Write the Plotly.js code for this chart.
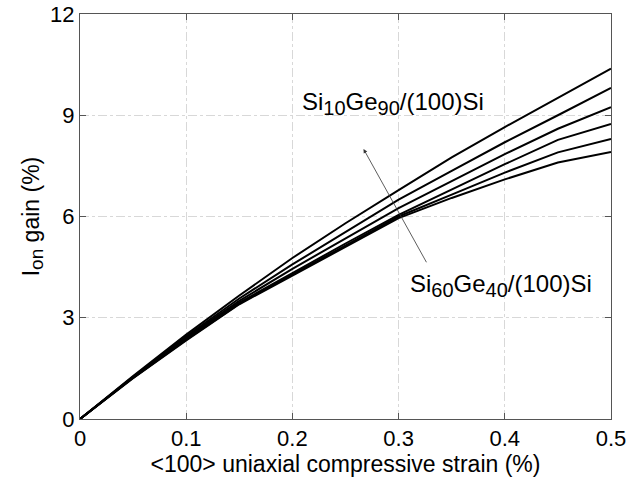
<!DOCTYPE html>
<html>
<head>
<meta charset="utf-8">
<script src="https://cdn.plot.ly/plotly-3.0.1.min.js"></script>
<style>html,body{margin:0;padding:0;background:#fff;}#chart{width:629px;height:477px;}</style>
</head>
<body>
<div id="chart"></div>
<script>
const strain = [0, 0.05, 0.1, 0.15, 0.2, 0.25, 0.3, 0.35, 0.4, 0.45, 0.5];
const gainA = [0, 1.27, 2.50, 3.66, 4.77, 5.80, 6.78, 7.75, 8.65, 9.52, 10.38];
const gainB = [0, 1.25, 2.45, 3.57, 4.58, 5.55, 6.50, 7.35, 8.20, 9.00, 9.81];
const gainC = [0, 1.24, 2.42, 3.50, 4.45, 5.35, 6.25, 7.05, 7.85, 8.60, 9.24];
const gainD = [0, 1.23, 2.38, 3.45, 4.32, 5.20, 6.05, 6.80, 7.55, 8.27, 8.74];
const gainE = [0, 1.22, 2.35, 3.42, 4.28, 5.15, 6.00, 6.65, 7.30, 7.90, 8.30];
const gainF = [0, 1.21, 2.33, 3.40, 4.25, 5.10, 5.95, 6.55, 7.10, 7.60, 7.91];
const xTicks = [0, 0.1, 0.2, 0.3, 0.4, 0.5];
const xTickText = ['0', '0.1', '0.2', '0.3', '0.4', '0.5'];
const yTicks = [0, 3, 6, 9, 12];
const yTickText = ['0', '3', '6', '9', '12'];

const series = [gainA, gainB, gainC, gainD, gainE, gainF];
const traces = series.map(g => ({
  x: strain, y: g, type: 'scatter', mode: 'lines',
  line: {color: '#000', width: 2}, showlegend: false, hoverinfo: 'skip'
}));

const fam = 'Liberation Sans, Arial, sans-serif';
const tickFont = {family: fam, size: 22, color: '#000'};
const titleFont = {family: fam, size: 23, color: '#000'};
const annFont = {family: fam, size: 24, color: '#000'};
const axisCommon = {
  showgrid: true, gridcolor: '#d8d8d8', griddash: 'dashdot', gridwidth: 1,
  zeroline: false, showline: true, linecolor: '#555', linewidth: 1, mirror: 'ticks',
  ticks: 'inside', ticklen: 6, tickcolor: '#555', tickfont: tickFont
};

const sub = (t, s) => '<sub><span style="font-size:' + s + 'px">' + t + '</span></sub>';

const layout = {
  width: 629, height: 477,
  margin: {l: 80, r: 18, t: 14, b: 58},
  paper_bgcolor: '#fff', plot_bgcolor: '#fff',
  font: tickFont,
  xaxis: Object.assign({}, axisCommon, {
    range: [0, 0.5], tickvals: xTicks, ticktext: xTickText,
    title: {text: '<100> uniaxial compressive strain (%)', font: titleFont, standoff: 2}
  }),
  yaxis: Object.assign({}, axisCommon, {
    range: [0, 12], tickvals: yTicks, ticktext: yTickText,
    title: {text: 'I' + sub('on', 19) + ' gain (%)', font: titleFont, standoff: 4}
  }),
  annotations: [
    {x: 0.207, y: 9.35, xref: 'x', yref: 'y', xanchor: 'left', yanchor: 'middle',
     text: 'Si' + sub('10', 20) + 'Ge' + sub('90', 20) + '/(100)Si', showarrow: false, font: annFont},
    {x: 0.309, y: 3.95, xref: 'x', yref: 'y', xanchor: 'left', yanchor: 'middle',
     text: 'Si' + sub('60', 20) + 'Ge' + sub('40', 20) + '/(100)Si', showarrow: false, font: annFont},
    {x: 0.267, y: 8.0, ax: 0.327, ay: 4.6, xref: 'x', yref: 'y', axref: 'x', ayref: 'y',
     text: '', showarrow: true, arrowhead: 2, arrowsize: 1, arrowwidth: 0.8, arrowcolor: '#333'}
  ]
};

Plotly.newPlot('chart', traces, layout, {staticPlot: true, displayModeBar: false});
</script>
</body>
</html>
